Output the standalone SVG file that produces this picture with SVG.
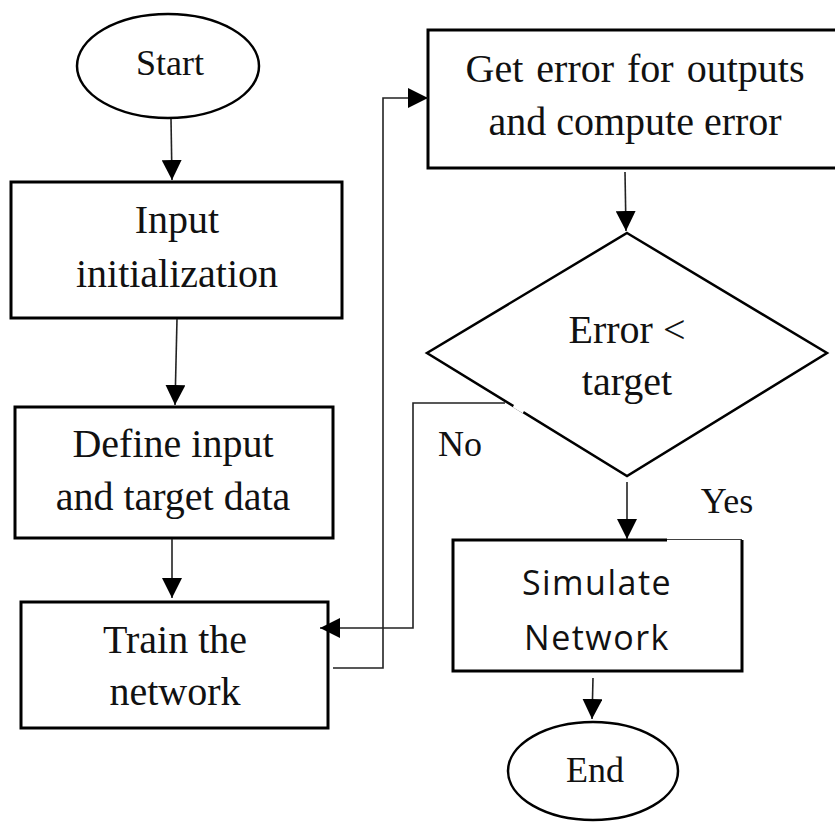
<svg xmlns="http://www.w3.org/2000/svg" width="835" height="825" viewBox="0 0 835 825">
<defs>
<marker id="ah" markerUnits="userSpaceOnUse" markerWidth="20" markerHeight="20" refX="20" refY="10" orient="auto">
<path d="M0,0 L20,10 L0,20 z" fill="#000"/>
</marker>
<style>
.box{fill:#fff;stroke:#000;stroke-width:3}
.shape{fill:#fff;stroke:#000;stroke-width:2.5}
.ln{fill:none;stroke:#222;stroke-width:1.6}
.t{font-family:"Liberation Serif","Times New Roman",serif;fill:#111;text-anchor:middle}
.s{font-family:"Open Sans","Liberation Sans",sans-serif;fill:#111;text-anchor:middle}
</style>
</defs>
<rect width="835" height="825" fill="#fff"/>
<g id="start">
<ellipse class="shape" cx="168" cy="66" rx="91" ry="52"/>
<text class="t" x="170" y="75" font-size="36">Start</text>
</g>
<g id="input-init">
<rect class="box" x="11" y="182" width="331" height="136"/>
<text class="t" x="177" y="233" font-size="40">Input</text>
<text class="t" x="177" y="287" font-size="40">initialization</text>
</g>
<g id="define">
<rect class="box" x="15" y="407" width="318" height="131"/>
<text class="t" x="173" y="457" font-size="40">Define input</text>
<text class="t" x="173" y="510" font-size="40">and target data</text>
</g>
<g id="train">
<rect class="box" x="21" y="602" width="307" height="126"/>
<text class="t" x="175" y="653" font-size="40">Train the</text>
<text class="t" x="175" y="705" font-size="40">network</text>
</g>
<g id="get-error">
<rect class="box" x="428" y="30" width="420" height="138"/>
<text class="t" x="635" y="82" font-size="40" word-spacing="3">Get error for outputs</text>
<text class="t" x="635" y="135" font-size="40">and compute error</text>
</g>
<g id="decision">
<polygon class="shape" points="627,233 827,353 627,476 427,353"/>
<text class="t" x="627" y="343" font-size="40">Error &lt;</text>
<text class="t" x="627" y="395" font-size="40">target</text>
</g>
<g id="simulate">
<path d="M667,540 L742,540" stroke="#000" stroke-width="1.6" fill="none"/>
<path d="M667,540 L453,540 L453,671 L742,671 L742,540" fill="#fff" stroke="#000" stroke-width="3"/>
<text class="s" x="597" y="595" font-size="34" letter-spacing="1.5">Simulate</text>
<text class="s" x="597" y="650" font-size="34" letter-spacing="1.5">Network</text>
</g>
<g id="end">
<ellipse class="shape" cx="593" cy="771" rx="85" ry="49"/>
<text class="t" x="595" y="782" font-size="36">End</text>
</g>
<g id="connectors">
<line class="ln" x1="171" y1="119" x2="172" y2="180" marker-end="url(#ah)"/>
<line class="ln" x1="177" y1="319" x2="175" y2="405" marker-end="url(#ah)"/>
<line class="ln" x1="172" y1="539" x2="172" y2="598" marker-end="url(#ah)"/>
<polyline class="ln" points="333,668 383,668 383,98 428,98" marker-end="url(#ah)"/>
<line class="ln" x1="625" y1="172" x2="626" y2="231" marker-end="url(#ah)"/>
<polyline class="ln" points="505,403 413,403 413,628 320,628" marker-end="url(#ah)"/>
<line x1="514" y1="405" x2="524" y2="411" stroke="#fff" stroke-width="5"/>
<line class="ln" x1="627" y1="482" x2="627" y2="539" marker-end="url(#ah)"/>
<line class="ln" x1="593" y1="678" x2="592" y2="719" marker-end="url(#ah)"/>
<text class="t" x="460" y="456" font-size="36">No</text>
<text class="t" x="727" y="513" font-size="36">Yes</text>
</g>
</svg>
